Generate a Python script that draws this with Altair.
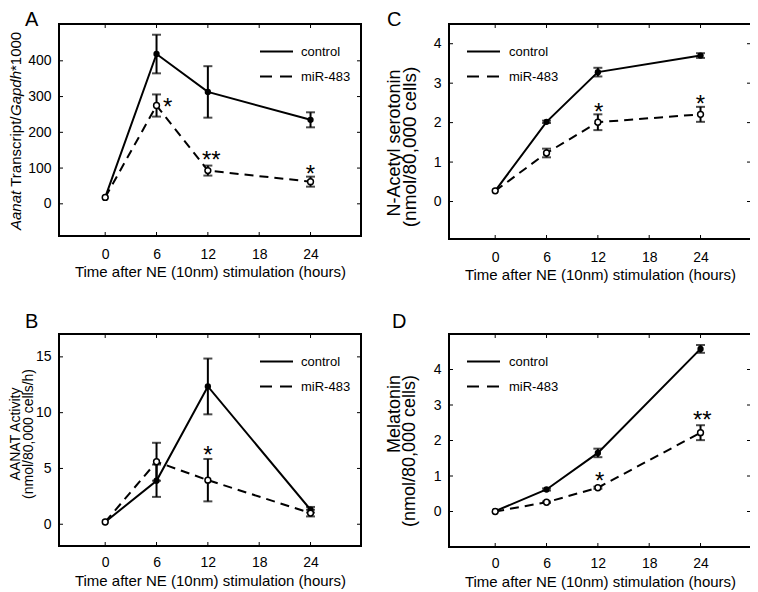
import altair as alt
import pandas as pd

FONT = "Liberation Sans"

# ---------------- data ----------------
times = [0, 6, 12, 24]
x_ticks = [0, 6, 12, 18, 24]
x_domain = [-5.4, 29.9]
x_title = "Time after NE (10nm) stimulation (hours)"

# Panel A: Aanat transcript
a_control = [18, 419, 313, 235]
a_control_err = [0, 54, 72, 21]
a_mir = [18, 275, 93, 62]
a_mir_err = [0, 31, 14, 14]
a_yticks = [0, 100, 200, 300, 400]
a_ydomain = [-90, 503]
a_star_t = [7.3, 12.4, 24]
a_star_y = [286, 137, 100]
a_star_label = ["*", "**", "*"]

# Panel B: AANAT activity
b_control = [0.2, 3.9, 12.35, 1.3]
b_control_err = [0, 1.45, 2.5, 0.25]
b_mir = [0.2, 5.6, 3.95, 1.0]
b_mir_err = [0, 1.7, 1.9, 0.3]
b_yticks = [0, 5, 10, 15]
b_ydomain = [-1.95, 17.05]
b_star_t = [12]
b_star_y = [6.72]
b_star_label = ["*"]

# Panel C: N-Acetyl serotonin
c_control = [0.27, 2.02, 3.28, 3.70]
c_control_err = [0, 0.03, 0.11, 0.06]
c_mir = [0.27, 1.23, 2.01, 2.21]
c_mir_err = [0, 0.11, 0.20, 0.19]
c_yticks = [0, 1, 2, 3, 4]
c_ydomain = [-0.95, 4.5]
c_star_t = [12.1, 24]
c_star_y = [2.41, 2.61]
c_star_label = ["*", "*"]

# Panel D: Melatonin
d_control = [0.01, 0.62, 1.65, 4.58]
d_control_err = [0, 0.03, 0.12, 0.11]
d_mir = [0.0, 0.26, 0.67, 2.22]
d_mir_err = [0, 0.02, 0.03, 0.21]
d_yticks = [0, 1, 2, 3, 4]
d_ydomain = [-1, 5]
d_star_t = [12.2, 24.2]
d_star_y = [1.01, 2.72]
d_star_label = ["*", "**"]

series_names = ["control", "miR-483"]

W = 302
DASH = [9, 6]


def text_layer(label, **kw):
    enc = {k: v for k, v in kw.items() if k in ("x", "y")}
    mk = {k: v for k, v in kw.items() if k not in ("x", "y")}
    mk.setdefault("font", FONT)
    mk.setdefault("color", "black")
    return alt.Chart(pd.DataFrame({"label": [label]})).mark_text(**mk).encode(
        text="label:N", **enc
    )


def panel(letter, letter_pos, ctrl, ctrl_err, mir, mir_err, ydom, yticks, H,
          star_t, star_y, star_label, legend_x, title_layers, label_pad, title_y):
    X = alt.X("t:Q", scale=alt.Scale(domain=x_domain, nice=False, zero=False),
              axis=alt.Axis(values=x_ticks, title=x_title, grid=False, domain=False,
                            ticks=False, tickSize=0, labelPadding=label_pad,
                            labelFontSize=14, labelFont=FONT, labelColor="black",
                            titleFont=FONT, titleFontSize=15, titleColor="black",
                            titleFontWeight="normal", titleY=title_y, titleBaseline="top",
                            format="d"))
    Y = alt.Y("y:Q", scale=alt.Scale(domain=ydom, nice=False, zero=False),
              axis=alt.Axis(values=yticks, title=None, grid=False, domain=False,
                            ticks=False, tickSize=0, labelPadding=8,
                            labelFontSize=14, labelFont=FONT, labelColor="black",
                            format="d"))

    def series_layers(vals, errs, dashed, filled):
        df = pd.DataFrame({"t": times, "y": vals})
        err = pd.DataFrame({
            "t": [t for t, e in zip(times, errs) if e > 0],
            "y": [v - e for v, e in zip(vals, errs) if e > 0],
            "y2": [v + e for v, e in zip(vals, errs) if e > 0],
        })
        caps = pd.DataFrame({
            "t": list(err["t"]) * 2,
            "y": list(err["y"]) + list(err["y2"]),
        })
        line_kw = dict(color="black", strokeWidth=2)
        if dashed:
            line_kw["strokeDash"] = DASH
        layers = [alt.Chart(df).mark_line(**line_kw).encode(x=X, y=Y)]
        if len(err):
            layers.append(alt.Chart(err).mark_rule(color="black", strokeWidth=2).encode(
                x=X, y=Y, y2="y2:Q"))
            layers.append(alt.Chart(caps).mark_tick(orient="horizontal", color="black",
                                                    size=9, thickness=2).encode(x=X, y=Y))
        if filled:
            layers.append(alt.Chart(df).mark_point(shape="circle", filled=True, color="black",
                                                   size=40, opacity=1).encode(x=X, y=Y))
        else:
            layers.append(alt.Chart(df).mark_point(shape="circle", filled=True, fill="white",
                                                   stroke="black", strokeWidth=1.5,
                                                   size=34, opacity=1).encode(x=X, y=Y))
        return layers

    layers = []
    layers += series_layers(ctrl, ctrl_err, dashed=False, filled=True)
    layers += series_layers(mir, mir_err, dashed=True, filled=False)

    # significance stars
    stars = pd.DataFrame({"t": star_t, "y": star_y, "label": star_label})
    layers.append(alt.Chart(stars).mark_text(font=FONT, fontSize=24, color="black",
                                             baseline="alphabetic", align="center",
                                             dy=13.5).encode(x=X, y=Y, text="label:N"))

    # inward ticks on all four sides
    xt = pd.DataFrame({"t": x_ticks})
    yt = pd.DataFrame({"y": yticks})
    layers.append(alt.Chart(xt).mark_rule(color="black", strokeWidth=1).encode(
        x=X, y=alt.value(H), y2=alt.value(H - 4)))
    layers.append(alt.Chart(xt).mark_rule(color="black", strokeWidth=1).encode(
        x=X, y=alt.value(0), y2=alt.value(4)))
    layers.append(alt.Chart(yt).mark_rule(color="black", strokeWidth=1).encode(
        y=Y, x=alt.value(0), x2=alt.value(4)))
    layers.append(alt.Chart(yt).mark_rule(color="black", strokeWidth=1).encode(
        y=Y, x=alt.value(W), x2=alt.value(W - 4)))

    # legend (drawn inside the frame)
    lx0, lx1, ltx = legend_x
    for name, ly, dashed in [(series_names[0], 27.5, False), (series_names[1], 52.5, True)]:
        kw = dict(color="black", strokeWidth=2)
        if dashed:
            kw["strokeDash"] = [12, 8]
        layers.append(alt.Chart(pd.DataFrame({"label": [name]})).mark_rule(**kw).encode(
            x=alt.value(lx0), x2=alt.value(lx1), y=alt.value(ly)))
        layers.append(text_layer(name, x=alt.value(ltx), y=alt.value(ly), fontSize=13,
                                 align="left", baseline="middle"))

    # panel letter
    layers.append(text_layer(letter, x=alt.value(letter_pos[0]), y=alt.value(letter_pos[1]),
                             fontSize=20, align="left", baseline="alphabetic"))
    layers += title_layers

    return alt.layer(*layers).properties(width=W, height=H)


# y-axis titles drawn as rotated text
a_title = [
    text_layer("Aanat", x=alt.value(-43), y=alt.value(206), angle=270, fontSize=15,
               fontStyle="italic", align="left", baseline="middle"),
    text_layer("Transcript/", x=alt.value(-43), y=alt.value(162.8), angle=270, fontSize=15,
               align="left", baseline="middle"),
    text_layer("Gapdh", x=alt.value(-43), y=alt.value(92), angle=270, fontSize=15,
               fontStyle="italic", align="left", baseline="middle"),
    text_layer("*1000", x=alt.value(-43), y=alt.value(47), angle=270, fontSize=15,
               align="left", baseline="middle"),
]
b_title = [
    text_layer("AANAT Activity", x=alt.value(-43), y=alt.value(100), angle=270, fontSize=14,
               align="center", baseline="middle"),
    text_layer("(nmol/80,000 cells/h)", x=alt.value(-30), y=alt.value(100), angle=270,
               fontSize=14, align="center", baseline="middle"),
]
c_title = [
    text_layer("N-Acetyl serotonin", x=alt.value(-54), y=alt.value(119), angle=270,
               fontSize=18, align="center", baseline="middle"),
    text_layer("(nmol/80,000 cells)", x=alt.value(-39), y=alt.value(123), angle=270,
               fontSize=19, align="center", baseline="middle"),
]
d_title = [
    text_layer("Melatonin", x=alt.value(-54), y=alt.value(41), angle=270, fontSize=18,
               align="right", baseline="middle"),
    text_layer("(nmol/80,000 cells)", x=alt.value(-39), y=alt.value(41), angle=270,
               fontSize=18, align="right", baseline="middle"),
]

pA = panel("A", (-34, 2), a_control, a_control_err, a_mir, a_mir_err, a_ydomain, a_yticks,
           212, a_star_t, a_star_y, a_star_label, (201, 234, 242), a_title, 11, 28)
pC = panel("C", (-62, 2), c_control, c_control_err, c_mir, c_mir_err, c_ydomain, c_yticks,
           215, c_star_t, c_star_y, c_star_label, (18, 51, 60), c_title, 11, 28)
pB = panel("B", (-34, -6), b_control, b_control_err, b_mir, b_mir_err, b_ydomain, b_yticks,
           212, b_star_t, b_star_y, b_star_label, (201, 234, 242), b_title, 9, 27)
pD = panel("D", (-57, -6), d_control, d_control_err, d_mir, d_mir_err, d_ydomain, d_yticks,
           213, d_star_t, d_star_y, d_star_label, (18, 51, 60), d_title, 9, 27)

chart = alt.concat(
    pA, pC, pB, pD, columns=2, spacing={"row": 95, "column": 88}, bounds="flush"
).properties(
    autosize=alt.AutoSizeParams(type="none"),
    padding={"left": 51, "top": 16, "right": 691, "bottom": 568},
    background="white",
).configure_view(stroke="black", strokeWidth=2)

chart.save("out.html", embed_options={"renderer": "svg", "actions": False})
